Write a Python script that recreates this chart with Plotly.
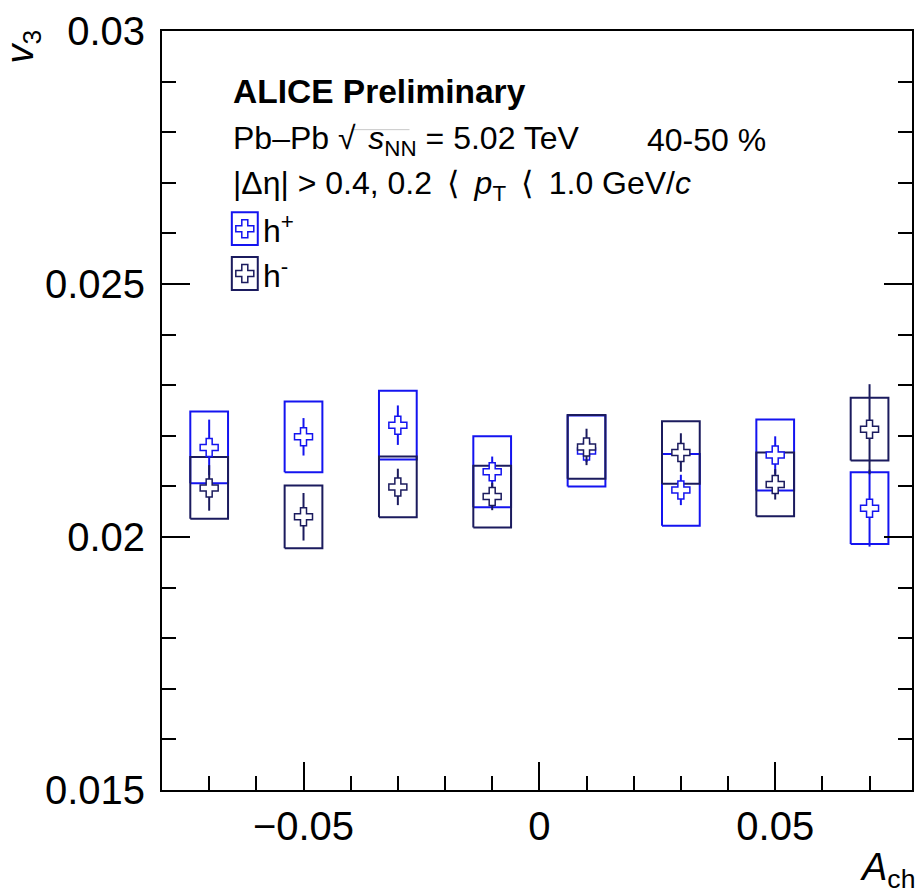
import plotly.graph_objects as go

# Charge asymmetry bins and v3 of positive / negative hadrons
a_ch = [-0.07, -0.05, -0.03, -0.01, 0.01, 0.03, 0.05, 0.07]

v3_pos = [0.02177, 0.02198, 0.02221, 0.02129, 0.02170, 0.02093, 0.02162, 0.02057]
stat_pos = [0.00055, 0.00037, 0.00039, 0.00030, 0.00022, 0.00030, 0.00037, 0.00076]
sys_pos = [0.00071, 0.00070, 0.00068, 0.00070, 0.00070, 0.00071, 0.00070, 0.00071]

v3_neg = [0.02097, 0.02040, 0.02099, 0.02080, 0.02178, 0.02167, 0.02104, 0.02213]
stat_neg = [0.00045, 0.00047, 0.00036, 0.00027, 0.00036, 0.00038, 0.00030, 0.00089]
sys_neg = [0.00061, 0.00062, 0.00060, 0.00061, 0.00063, 0.00062, 0.00063, 0.00062]

sys_box_halfwidth = 0.004

BLUE = "#1414f0"
NAVY = "#1b1b5e"
FONT = "Liberation Sans"


def box_outline(xs, ys, errs, hw):
    bx, by = [], []
    for x, y, e in zip(xs, ys, errs):
        bx += [x - hw, x + hw, x + hw, x - hw, x - hw, None]
        by += [y - e, y - e, y + e, y + e, y - e, None]
    return bx, by


fig = go.Figure()

# systematic uncertainty boxes
for vals, syss, col in [(v3_pos, sys_pos, BLUE), (v3_neg, sys_neg, NAVY)]:
    bx, by = box_outline(a_ch, vals, syss, sys_box_halfwidth)
    fig.add_trace(go.Scatter(x=bx, y=by, mode="lines",
                             line=dict(color=col, width=2),
                             hoverinfo="skip", showlegend=False))

# points with statistical uncertainties
for vals, stats, col in [(v3_pos, stat_pos, BLUE), (v3_neg, stat_neg, NAVY)]:
    fig.add_trace(go.Scatter(
        x=a_ch, y=vals, mode="markers",
        error_y=dict(type="data", array=stats, visible=True,
                     color=col, thickness=2, width=0),
        marker=dict(symbol="cross", size=15, color="white",
                    line=dict(color=col, width=1.5)),
        showlegend=False))

# legend glyphs on an overlay axis spanning the plot area
legend_x = [0.1104, 0.1104]
legend_y = [0.7396, 0.6805]
legend_cols = [BLUE, NAVY]
fig.add_trace(go.Scatter(
    x=legend_x, y=legend_y, xaxis="x2", yaxis="y2", mode="markers",
    marker=dict(symbol="cross", size=15, color="white",
                line=dict(color=legend_cols, width=1.5)),
    showlegend=False, hoverinfo="skip"))

for yc, col in zip(legend_y, legend_cols):
    fig.add_shape(type="rect", xref="paper", yref="paper",
                  x0=0.0931, x1=0.1277, y0=yc - 0.0216, y1=yc + 0.0216,
                  line=dict(color=col, width=2))

axis_common = dict(
    showline=True, linewidth=2, linecolor="black",
    ticks="inside", tickwidth=2, tickcolor="black",
    showgrid=False, zeroline=False,
    tickfont=dict(family=FONT, size=40, color="black"),
)

fig.update_layout(
    width=923, height=894,
    margin=dict(l=162, r=9, t=28, b=104),
    paper_bgcolor="white", plot_bgcolor="white",
    xaxis=dict(range=[-0.0800, 0.0790], tickmode="array", mirror=True,
               tickvals=[-0.05, 0, 0.05], ticktext=["\u22120.05", "0", "0.05"],
               ticklen=28, ticklabelstandoff=0,
               minor=dict(tickmode="linear", tick0=0, dtick=0.01, ticklen=14,
                          tickwidth=2, tickcolor="black", ticks="inside"),
               **axis_common),
    yaxis=dict(range=[0.015, 0.03], tickmode="array", mirror="allticks",
               tickvals=[0.015, 0.02, 0.025, 0.03],
               ticktext=["0.015", "0.02", "0.025", "0.03"],
               ticklen=28, ticklabelstandoff=7,
               minor=dict(tickmode="linear", tick0=0.015, dtick=0.001, ticklen=14,
                          tickwidth=2, tickcolor="black", ticks="inside"),
               **axis_common),
    xaxis2=dict(overlaying="x", range=[0, 1], visible=False, anchor="y2"),
    yaxis2=dict(overlaying="y", range=[0, 1], visible=False, anchor="x2"),
    showlegend=False,
)

txt = dict(family=FONT, size=32, color="black")
TS = "\u2009"
annotations = [
    dict(x=0.0918, y=0.920, text="<b>ALICE Preliminary</b>", xanchor="left",
         font=dict(family=FONT, size=33.5, color="black")),
    dict(x=0.0918, y=0.856,
         text="Pb\u2013Pb \u221a" + TS + TS + "<i>s</i><sub>NN</sub> = 5.02 TeV",
         xanchor="left", font=txt),
    dict(x=0.6436, y=0.856, text="40-50 %", xanchor="left", font=txt),
    dict(x=0.0918, y=0.796,
         text="|\u0394\u03b7| > 0.4, 0.2 " + TS + "\u27e8" + TS
              + " <i>p</i><sub>T</sub> " + TS + "\u27e8" + TS
              + " 1.0 GeV/<i>c</i>",
         xanchor="left", font=txt),
    dict(x=0.1316, y=0.7396, text="h<sup>+</sup>", xanchor="left", font=txt),
    dict(x=0.1316, y=0.6805, text="h<sup>-</sup>", xanchor="left", font=txt),
]
for a in annotations:
    fig.add_annotation(xref="paper", yref="paper", yanchor="middle",
                       showarrow=False, **a)

# overbar of the square-root sign
fig.add_shape(type="line", xref="paper", yref="paper",
              x0=0.252, x1=0.33, y0=0.870, y1=0.870,
              line=dict(color="#c8c8c8", width=1))

fig.add_annotation(xref="paper", yref="paper", x=-0.186, y=0.979,
                   text="<i>v</i><sub>3</sub>", textangle=-90, showarrow=False,
                   xanchor="center", yanchor="middle",
                   font=dict(family=FONT, size=38, color="black"))
fig.add_annotation(xref="paper", yref="paper", x=1.006, y=-0.105,
                   text="<i>A</i><sub>ch</sub>", showarrow=False,
                   xanchor="right", yanchor="middle",
                   font=dict(family=FONT, size=38, color="black"))

fig.write_html("out.html")
